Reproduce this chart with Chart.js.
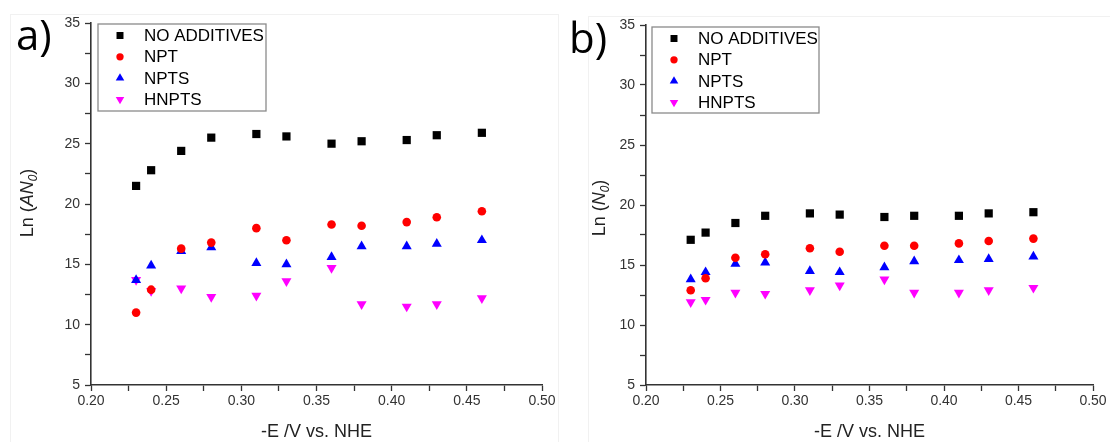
<!DOCTYPE html>
<html>
<head>
<meta charset="utf-8">
<script src="https://cdn.jsdelivr.net/npm/chart.js@4/dist/chart.umd.min.js"></script>
<style>
  html, body { margin: 0; padding: 0; background: #fff; }
  body { width: 1110px; height: 442px; position: relative; overflow: hidden; }
  .frame { position: absolute; border: 1px solid #f1f1f1; }
  canvas { position: absolute; top: 0; }
</style>
</head>
<body>
<div class="frame" style="left:10px; top:14px; width:547px; height:440px;"></div>
<div class="frame" style="left:588px; top:16px; width:540px; height:440px;"></div>
<canvas id="chartA" width="560" height="442" style="left:0"></canvas>
<canvas id="chartB" width="550" height="442" style="left:560px"></canvas>
<script>
// potentials (-E / V vs. NHE)
const potentials = [0.23, 0.24, 0.26, 0.28, 0.31, 0.33, 0.36, 0.38, 0.41, 0.43, 0.46]
const seriesNames = ["NO ADDITIVES", "NPT", "NPTS", "HNPTS"]

// panel a) Ln(AN0)
const aNoAdditives = [21.5, 22.8, 24.4, 25.5, 25.8, 25.6, 25.0, 25.2, 25.3, 25.7, 25.9]
const aNPT = [11.0, 12.9, 16.3, 16.8, 18.0, 17.0, 18.3, 18.2, 18.5, 18.9, 19.4]
const aNPTS = [13.7, 14.9, 16.1, 16.4, 15.1, 15.0, 15.6, 16.5, 16.5, 16.7, 17.0]
const aHNPTS = [13.7, 12.8, 13.0, 12.3, 12.4, 13.6, 14.7, 11.7, 11.5, 11.7, 12.2]

// panel b) Ln(N0)
const bNoAdditives = [17.1, 17.7, 18.5, 19.1, 19.3, 19.2, 19.0, 19.1, 19.1, 19.3, 19.4]
const bNPT = [12.9, 13.9, 15.6, 15.9, 16.4, 16.1, 16.6, 16.6, 16.8, 17.0, 17.2]
const bNPTS = [13.8, 14.4, 15.1, 15.2, 14.5, 14.4, 14.8, 15.3, 15.4, 15.5, 15.7]
const bHNPTS = [11.9, 12.1, 12.7, 12.6, 12.9, 13.3, 13.8, 12.7, 12.7, 12.9, 13.1]

// axis ticks
const xTickValues = [0.20, 0.25, 0.30, 0.35, 0.40, 0.45, 0.50]
const xTickLabels = ["0.20", "0.25", "0.30", "0.35", "0.40", "0.45", "0.50"]
const yTickValues = [5, 10, 15, 20, 25, 30, 35]
const yTickLabels = ["5", "10", "15", "20", "25", "30", "35"]

const markerStyles = [
  { color: "#000000", pointStyle: "rect", radius: 5.8, rotation: 0 },
  { color: "#ff0000", pointStyle: "circle", radius: 4.3, rotation: 0 },
  { color: "#0000ff", pointStyle: "triangle", radius: 5.8, rotation: 0 },
  { color: "#ff00ff", pointStyle: "triangle", radius: 5.8, rotation: 180 }
]

const axisColor = "#333333"
const tickFont = { family: "'Liberation Sans', Arial, sans-serif", size: 14 }
const italicFont = "italic 18px 'Liberation Sans', Arial, sans-serif"
const normalFont = "18px 'Liberation Sans', Arial, sans-serif"
const subFont = "italic 12px 'Liberation Sans', Arial, sans-serif"

// per-canvas decorations, kept outside the chart options
const decorations = {
  chartA: {
    panelLabel: "a)", panelX: 16, panelY: 50,
    yTitleX: 33, yTitleY: 203,
    yTitle: [["Ln (", normalFont, 0], ["AN", italicFont, 0], ["0", subFont, 4], [")", normalFont, 0]],
    legendBox: { x: 98, y: 24, w: 168, h: 87 }
  },
  chartB: {
    panelLabel: "b)", panelX: 9, panelY: 53,
    yTitleX: 45, yTitleY: 208,
    yTitle: [["Ln (", normalFont, 0], ["N", italicFont, 0], ["0", subFont, 4], [")", normalFont, 0]],
    legendBox: { x: 92, y: 27, w: 167, h: 86 }
  }
}

// major + minor tick positions (minor halfway between labelled ticks)
function withMinor(values) {
  const out = []
  values.forEach((v, i) => {
    out.push(v)
    if (i < values.length - 1) out.push((v + values[i + 1]) / 2)
  })
  return out
}

function labelFor(value, values, labels) {
  const i = values.findIndex(v => Math.abs(v - value) < 1e-6)
  return i >= 0 ? labels[i] : ""
}

const decorPlugin = {
  id: "decor",
  afterDraw(chart) {
    const opts = decorations[chart.canvas.id]
    const ctx = chart.ctx
    const area = chart.chartArea
    ctx.save()

    // panel label
    ctx.fillStyle = "#000"
    ctx.font = "42px 'Open Sans', sans-serif"
    ctx.textAlign = "left"
    ctx.textBaseline = "alphabetic"
    ctx.fillText(opts.panelLabel, opts.panelX, opts.panelY)

    // x axis title
    ctx.fillStyle = "#222"
    ctx.font = "18px 'Liberation Sans', Arial, sans-serif"
    ctx.textAlign = "center"
    ctx.fillText("-E /V vs. NHE", (area.left + area.right) / 2, 437)

    // y axis title with italic parts and subscript
    let total = 0
    opts.yTitle.forEach(([text, font]) => {
      ctx.font = font
      total += ctx.measureText(text).width
    })
    ctx.save()
    ctx.translate(opts.yTitleX, opts.yTitleY)
    ctx.rotate(-Math.PI / 2)
    ctx.textAlign = "left"
    let cx = -total / 2
    opts.yTitle.forEach(([text, font, shift]) => {
      ctx.font = font
      ctx.fillText(text, cx, shift)
      cx += ctx.measureText(text).width
    })
    ctx.restore()

    // legend box
    const box = opts.legendBox
    ctx.strokeStyle = "#8a8a8a"
    ctx.lineWidth = 1.3
    ctx.strokeRect(box.x, box.y, box.w, box.h)
    ctx.font = "17px 'Liberation Sans', Arial, sans-serif"
    ctx.textAlign = "left"
    ctx.textBaseline = "middle"
    chart.data.datasets.forEach((ds, i) => {
      const y = box.y + 11.5 + i * 21.3
      const st = markerStyles[i]
      ctx.fillStyle = st.color
      Chart.helpers.drawPoint(ctx, {
        pointStyle: st.pointStyle,
        radius: st.radius * 0.85,
        rotation: st.rotation,
        borderWidth: 0
      }, box.x + 22, y)
      ctx.fillStyle = "#000"
      ctx.fillText(ds.label, box.x + 46, y + 1)
    })
    ctx.restore()
  }
}

function buildChart(canvasId, values, layout) {
  const datasets = values.map((vals, i) => ({
    label: seriesNames[i],
    data: potentials.map((x, j) => ({ x: x, y: vals[j] })),
    backgroundColor: markerStyles[i].color,
    borderColor: markerStyles[i].color,
    pointStyle: markerStyles[i].pointStyle,
    pointRadius: markerStyles[i].radius,
    pointRotation: markerStyles[i].rotation,
    pointBorderWidth: 0,
    showLine: false
  }))

  const grid = {
    display: true,
    drawOnChartArea: false,
    drawTicks: true,
    tickLength: 6,
    tickColor: axisColor,
    tickWidth: 1.3
  }

  return new Chart(document.getElementById(canvasId), {
    type: "scatter",
    data: { datasets: datasets },
    options: {
      responsive: false,
      animation: false,
      layout: {
        padding: { left: 0, right: layout.padRight, top: layout.padTop, bottom: 0 }
      },
      plugins: {
        legend: { display: false },
        tooltip: { enabled: false }
      },
      scales: {
        x: {
          type: "linear",
          min: 0.2,
          max: 0.5,
          afterBuildTicks: scale => {
            scale.ticks = withMinor(xTickValues).map(v => ({ value: v }))
          },
          afterFit: scale => { scale.height = 57 },
          border: { display: true, color: axisColor, width: 1.6 },
          grid: grid,
          ticks: {
            autoSkip: false,
            maxRotation: 0,
            padding: 2,
            color: axisColor,
            font: tickFont,
            callback: v => labelFor(v, xTickValues, xTickLabels)
          }
        },
        y: {
          type: "linear",
          min: 5,
          max: 35,
          afterBuildTicks: scale => {
            scale.ticks = withMinor(yTickValues).map(v => ({ value: v }))
          },
          afterFit: scale => { scale.width = layout.yWidth },
          border: { display: true, color: axisColor, width: 1.6 },
          grid: grid,
          ticks: {
            autoSkip: false,
            padding: 5,
            color: axisColor,
            font: tickFont,
            callback: v => labelFor(v, yTickValues, yTickLabels)
          }
        }
      }
    },
    plugins: [decorPlugin]
  })
}

buildChart("chartA", [aNoAdditives, aNPT, aNPTS, aHNPTS], { padRight: 18, padTop: 23, yWidth: 91 })
buildChart("chartB", [bNoAdditives, bNPT, bNPTS, bHNPTS], { padRight: 17, padTop: 25, yWidth: 86 })
</script>
</body>
</html>
